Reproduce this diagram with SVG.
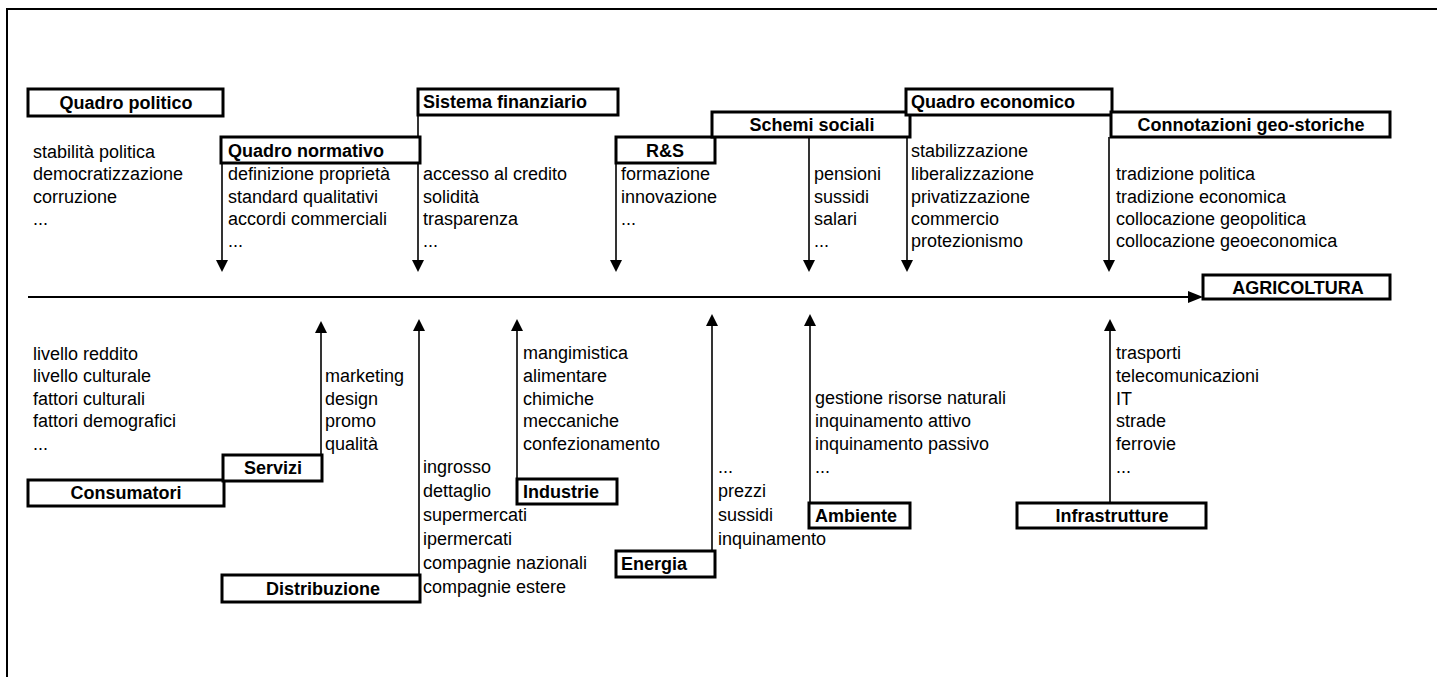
<svg xmlns="http://www.w3.org/2000/svg" width="1437" height="677" viewBox="0 0 1437 677">
<style>
.t{font-family:"Liberation Sans",Arial,sans-serif;font-size:18px;fill:#000}
.b{font-weight:bold}
.c{text-anchor:middle}
.box{fill:#fff;stroke:#000;stroke-width:3}
.ln{stroke:#000;stroke-width:1.6;fill:none}
</style>
<defs>
<marker id="ah" viewBox="0 0 10 10" refX="10" refY="5" markerWidth="7.5" markerHeight="7.5" markerUnits="userSpaceOnUse" orient="auto" style="overflow:visible">
<path d="M0,0 L10,5 L0,10 Z" fill="#000"/>
</marker>
<marker id="ahm" viewBox="0 0 10 10" refX="10" refY="5" markerWidth="8" markerHeight="7" orient="auto">
<path d="M0,0 L10,5 L0,10 Z" fill="#000"/>
</marker>
</defs>
<rect width="1437" height="677" fill="#fff"/>
<path d="M7,677 V9 H1437" fill="none" stroke="#000" stroke-width="2"/>

<g id="connectors">
<line x1="28" y1="297" x2="1191" y2="297" stroke="#000" stroke-width="2.2"/>
<path d="M1188,291 L1203,297 L1188,303 Z" fill="#000"/>
<g class="ln">
<line x1="222" y1="163" x2="222" y2="262"/>
<line x1="418" y1="115" x2="418" y2="262"/>
<line x1="616" y1="163" x2="616" y2="262"/>
<line x1="809" y1="137" x2="809" y2="262"/>
<line x1="907" y1="115" x2="907" y2="262"/>
<line x1="1109" y1="137" x2="1109" y2="262"/>
<line x1="321" y1="455" x2="321" y2="332"/>
<line x1="419" y1="575" x2="419" y2="330"/>
<line x1="517" y1="479" x2="517" y2="330"/>
<line x1="712" y1="551" x2="712" y2="325"/>
<line x1="810" y1="503" x2="810" y2="325"/>
<line x1="1110" y1="503" x2="1110" y2="330"/>
</g>
<g fill="#000">
<path d="M216,260 L228,260 L222,272 Z"/>
<path d="M412,260 L424,260 L418,272 Z"/>
<path d="M610,260 L622,260 L616,272 Z"/>
<path d="M803,260 L815,260 L809,272 Z"/>
<path d="M901,260 L913,260 L907,272 Z"/>
<path d="M1103,260 L1115,260 L1109,272 Z"/>
<path d="M315,333 L327,333 L321,321 Z"/>
<path d="M413,331 L425,331 L419,319 Z"/>
<path d="M511,331 L523,331 L517,319 Z"/>
<path d="M706,326 L718,326 L712,314 Z"/>
<path d="M804,326 L816,326 L810,314 Z"/>
<path d="M1104,331 L1116,331 L1110,319 Z"/>
</g>
</g>

<g id="quadro-politico">
<rect class="box" x="28" y="89" width="195" height="27"/>
<text class="t b c" x="126" y="109">Quadro politico</text>
<text class="t" x="33" y="158">stabilità politica</text>
<text class="t" x="33" y="180">democratizzazione</text>
<text class="t" x="33" y="203">corruzione</text>
<text class="t" x="33" y="225">...</text>
</g>

<g id="quadro-normativo">
<rect class="box" x="221" y="137" width="199" height="26"/>
<text class="t b" x="228" y="157">Quadro normativo</text>
<text class="t" x="228" y="180">definizione proprietà</text>
<text class="t" x="228" y="203">standard qualitativi</text>
<text class="t" x="228" y="225">accordi commerciali</text>
<text class="t" x="228" y="247">...</text>
</g>

<g id="sistema-finanziario">
<rect class="box" x="418" y="89" width="200" height="26"/>
<text class="t b" x="423" y="108">Sistema finanziario</text>
<text class="t" x="423" y="180">accesso al credito</text>
<text class="t" x="423" y="203">solidità</text>
<text class="t" x="423" y="225">trasparenza</text>
<text class="t" x="423" y="247">...</text>
</g>

<g id="r-s">
<rect class="box" x="616" y="137" width="99" height="26"/>
<text class="t b c" x="665" y="157">R&amp;S</text>
<text class="t" x="621" y="180">formazione</text>
<text class="t" x="621" y="203">innovazione</text>
<text class="t" x="621" y="225">...</text>
</g>

<g id="schemi-sociali">
<rect class="box" x="712" y="112" width="198" height="25"/>
<text class="t b c" x="812" y="131">Schemi sociali</text>
<text class="t" x="814" y="180">pensioni</text>
<text class="t" x="814" y="203">sussidi</text>
<text class="t" x="814" y="225">salari</text>
<text class="t" x="814" y="247">...</text>
</g>

<g id="quadro-economico">
<rect class="box" x="906" y="89" width="206" height="26"/>
<text class="t b" x="911" y="108">Quadro economico</text>
<text class="t" x="911" y="157">stabilizzazione</text>
<text class="t" x="911" y="180">liberalizzazione</text>
<text class="t" x="911" y="203">privatizzazione</text>
<text class="t" x="911" y="225">commercio</text>
<text class="t" x="911" y="247">protezionismo</text>
</g>

<g id="connotazioni">
<rect class="box" x="1111" y="112" width="279" height="25"/>
<text class="t b c" x="1251" y="131">Connotazioni geo-storiche</text>
<text class="t" x="1116" y="180">tradizione politica</text>
<text class="t" x="1116" y="203">tradizione economica</text>
<text class="t" x="1116" y="225">collocazione geopolitica</text>
<text class="t" x="1116" y="247">collocazione geoeconomica</text>
</g>

<g id="agricoltura">
<rect class="box" x="1203" y="275" width="187" height="24"/>
<text class="t b c" x="1298" y="294">AGRICOLTURA</text>
</g>

<g id="consumatori">
<rect class="box" x="28" y="480" width="196" height="26"/>
<text class="t b c" x="126" y="499">Consumatori</text>
<text class="t" x="33" y="360">livello reddito</text>
<text class="t" x="33" y="382">livello culturale</text>
<text class="t" x="33" y="405">fattori culturali</text>
<text class="t" x="33" y="427">fattori demografici</text>
<text class="t" x="33" y="450">...</text>
</g>

<g id="servizi">
<rect class="box" x="223" y="455" width="99" height="26"/>
<text class="t b c" x="273" y="474">Servizi</text>
<text class="t" x="325" y="382">marketing</text>
<text class="t" x="325" y="405">design</text>
<text class="t" x="325" y="427">promo</text>
<text class="t" x="325" y="450">qualità</text>
</g>

<g id="distribuzione">
<rect class="box" x="222" y="575" width="198" height="27"/>
<text class="t b c" x="323" y="595">Distribuzione</text>
<text class="t" x="423" y="473">ingrosso</text>
<text class="t" x="423" y="497">dettaglio</text>
<text class="t" x="423" y="521">supermercati</text>
<text class="t" x="423" y="545">ipermercati</text>
<text class="t" x="423" y="569">compagnie nazionali</text>
<text class="t" x="423" y="593">compagnie estere</text>
</g>

<g id="industrie">
<rect class="box" x="517" y="479" width="100" height="25"/>
<text class="t b" x="523" y="498">Industrie</text>
<text class="t" x="523" y="359">mangimistica</text>
<text class="t" x="523" y="382">alimentare</text>
<text class="t" x="523" y="405">chimiche</text>
<text class="t" x="523" y="427">meccaniche</text>
<text class="t" x="523" y="450">confezionamento</text>
</g>

<g id="energia">
<rect class="box" x="616" y="551" width="99" height="26"/>
<text class="t b" x="621" y="570">Energia</text>
<text class="t" x="718" y="473">...</text>
<text class="t" x="718" y="497">prezzi</text>
<text class="t" x="718" y="521">sussidi</text>
<text class="t" x="718" y="545">inquinamento</text>
</g>

<g id="ambiente">
<rect class="box" x="809" y="503" width="101" height="25"/>
<text class="t b" x="815" y="522">Ambiente</text>
<text class="t" x="815" y="404">gestione risorse naturali</text>
<text class="t" x="815" y="427">inquinamento attivo</text>
<text class="t" x="815" y="450">inquinamento passivo</text>
<text class="t" x="815" y="473">...</text>
</g>

<g id="infrastrutture">
<rect class="box" x="1017" y="503" width="189" height="25"/>
<text class="t b c" x="1112" y="522">Infrastrutture</text>
<text class="t" x="1116" y="359">trasporti</text>
<text class="t" x="1116" y="382">telecomunicazioni</text>
<text class="t" x="1116" y="405">IT</text>
<text class="t" x="1116" y="427">strade</text>
<text class="t" x="1116" y="450">ferrovie</text>
<text class="t" x="1116" y="473">...</text>
</g>
</svg>
